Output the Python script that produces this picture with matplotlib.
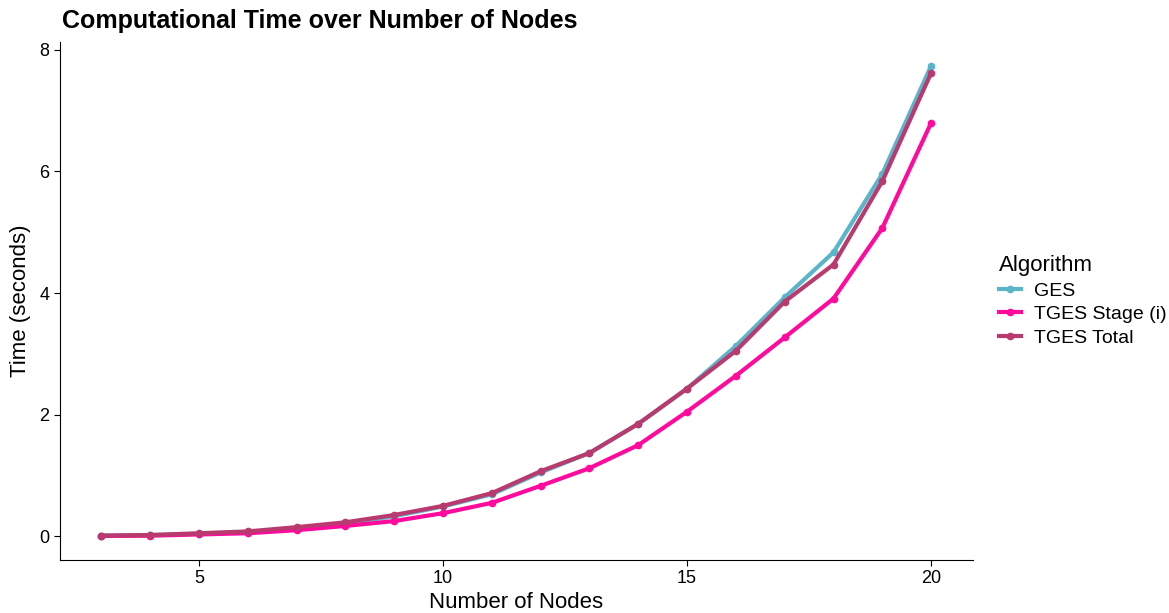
import matplotlib
matplotlib.use("Agg")
import matplotlib.pyplot as plt

plt.rcParams["font.family"] = ["Liberation Sans", "DejaVu Sans"]

# node counts and timings (seconds)
nodes = list(range(3, 21))
ges = [0.01, 0.02, 0.04, 0.07, 0.13, 0.21, 0.33, 0.49, 0.69, 1.05,
       1.37, 1.85, 2.43, 3.13, 3.93, 4.67, 5.96, 7.74]
tges_stage1 = [0.005, 0.01, 0.03, 0.05, 0.10, 0.17, 0.25, 0.38, 0.55, 0.83,
               1.12, 1.50, 2.05, 2.64, 3.27, 3.91, 5.07, 6.80]
tges_total = [0.01, 0.02, 0.05, 0.08, 0.15, 0.23, 0.35, 0.50, 0.71, 1.07,
              1.37, 1.85, 2.43, 3.05, 3.86, 4.47, 5.84, 7.62]

series = [("GES", ges, "#5bb5c9"),
          ("TGES Stage (i)", tges_stage1, "#ff0a9c"),
          ("TGES Total", tges_total, "#b93a6e")]

fig = plt.figure(figsize=(11.69, 6.13), dpi=100)
ax = fig.add_axes([0.0513, 0.0865, 0.7807, 0.845])

for name, vals, col in series:
    ax.plot(nodes, vals, "-o", color=col, lw=3, ms=4.5, label=name)

ax.set_xlim(2.15, 20.85)
ax.set_ylim(-0.39, 8.13)
ax.set_xticks([5, 10, 15, 20])
ax.set_yticks([0, 2, 4, 6, 8])
for s in ("top", "right"):
    ax.spines[s].set_visible(False)
ax.tick_params(labelsize=13, length=4, colors="black")
ax.set_xlabel("Number of Nodes", fontsize=16, labelpad=3)
ax.set_ylabel("Time (seconds)", fontsize=16, labelpad=6)
fig.text(0.053, 0.965, "Computational Time over Number of Nodes",
         fontsize=18, fontweight="bold", va="center")

leg = ax.legend(title="Algorithm", loc="center left",
                bbox_to_anchor=(1.01, 0.5), frameon=False, fontsize=14,
                title_fontsize=16, handlelength=1.1, handletextpad=0.7,
                labelspacing=0.3)
leg._legend_box.align = "left"

fig.savefig("out.png", dpi=100)
